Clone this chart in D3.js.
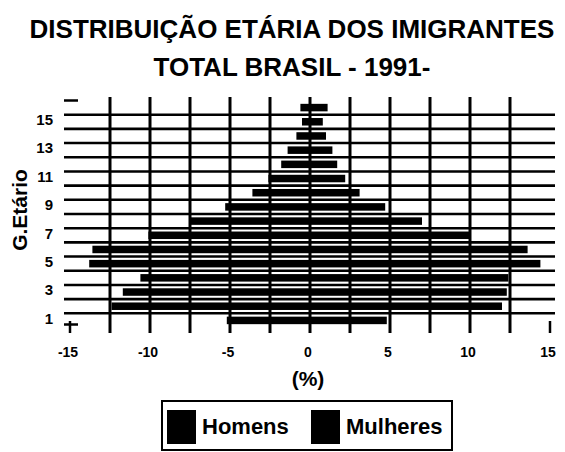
<!DOCTYPE html>
<html>

<head>
    <meta charset="utf-8">
    <title>Distribuição etária dos imigrantes</title>
    <script src="https://d3js.org/d3.v7.min.js"></script>
    <style>
        body {
            margin: 0;
            background: #fff;
        }

        text {
            font-family: "Liberation Sans", Arial, sans-serif;
            fill: #000;
        }
    </style>
</head>

<body>
    <div id="chart"></div>

    <script>
        // grupos etários, de baixo para cima
        const grupos = [1, 2, 3, 4, 5, 6, 7, 8, 9, 10, 11, 12, 13, 14, 15, 16];
        // % por sexo (homens negativos, para a esquerda)
        const homens = [-5.2, -12.4, -11.7, -10.6, -13.8, -13.6, -10.1, -7.5, -5.3, -3.6, -2.6, -1.8, -1.4, -0.85, -0.5, -0.6];
        const mulheres = [4.8, 12.0, 12.3, 12.4, 14.4, 13.6, 10.0, 7.0, 4.7, 3.1, 2.2, 1.7, 1.4, 1.0, 0.8, 1.1];
        const xTicks = [-15, -10, -5, 0, 5, 10, 15];
        const xGrid = [-12.5, -10, -7.5, -5, -2.5, 0, 2.5, 5, 7.5, 10, 12.5];
        const yLabels = [1, 3, 5, 7, 9, 11, 13, 15];
        const titulo = ["DISTRIBUIÇÃO ETÁRIA DOS IMIGRANTES", "TOTAL BRASIL - 1991-"];
        const series = ["Homens", "Mulheres"];

        const W = 565, H = 452;
        const plot = { left: 70, right: 550, top: 100.5, bottom: 327.5 };

        const svg = d3.select("#chart")
            .append("svg")
            .attr("width", W)
            .attr("height", H);

        const x = d3.scaleLinear()
            .domain([-15, 15])
            .range([plot.left, plot.right]);

        const y = d3.scaleBand()
            .domain(grupos.slice().reverse())
            .range([plot.top, plot.bottom])
            .padding(0.47)
            .paddingOuter(0.235);

        const step = y.step(), bw = y.bandwidth();
        const bandTop = g => y(g) + bw / 2 - step / 2;

        // titulo
        svg.selectAll(".titulo")
            .data(titulo)
            .join("text")
            .attr("class", "titulo")
            .attr("x", 292)
            .attr("y", (d, i) => 38 + i * 38)
            .attr("text-anchor", "middle")
            .style("font-size", "26px")
            .style("font-weight", "bold")
            .text(d => d);

        const g = svg.append("g");

        // grade vertical
        g.selectAll(".vgrid")
            .data(xGrid)
            .join("line")
            .attr("x1", d => x(d)).attr("x2", d => x(d))
            .attr("y1", 97).attr("y2", 333)
            .attr("stroke", "#000")
            .attr("stroke-width", 3);

        // marcas em -15 e 15
        g.selectAll(".xtick")
            .data([-15, 15])
            .join("line")
            .attr("x1", d => x(d)).attr("x2", d => x(d))
            .attr("y1", 321).attr("y2", 333)
            .attr("stroke", "#000")
            .attr("stroke-width", 2.5);

        // grade horizontal entre grupos
        g.selectAll(".hgrid")
            .data(grupos.slice(0, -1))
            .join("line")
            .attr("x1", 64).attr("x2", 555)
            .attr("y1", d => bandTop(d)).attr("y2", d => bandTop(d))
            .attr("stroke", "#000")
            .attr("stroke-width", 2.6);

        // marcas no topo e na base do eixo
        g.selectAll(".ytick")
            .data([plot.top, plot.bottom - 3])
            .join("line")
            .attr("x1", 64).attr("x2", 78)
            .attr("y1", d => d).attr("y2", d => d)
            .attr("stroke", "#000")
            .attr("stroke-width", 2.5);

        // barras
        g.selectAll(".homens")
            .data(grupos)
            .join("rect")
            .attr("x", (d, i) => x(homens[i]))
            .attr("y", d => y(d))
            .attr("width", (d, i) => x(0) - x(homens[i]))
            .attr("height", bw)
            .attr("fill", "#000");

        g.selectAll(".mulheres")
            .data(grupos)
            .join("rect")
            .attr("x", x(0))
            .attr("y", d => y(d))
            .attr("width", (d, i) => x(mulheres[i]) - x(0))
            .attr("height", bw)
            .attr("fill", "#000");

        // rotulos eixo x
        svg.selectAll(".xlab")
            .data(xTicks)
            .join("text")
            .attr("x", d => x(d) - 2)
            .attr("y", 357)
            .attr("text-anchor", "middle")
            .style("font-size", "14px")
            .style("font-weight", "bold")
            .text(d => d);

        // rotulos eixo y
        svg.selectAll(".ylab")
            .data(yLabels)
            .join("text")
            .attr("x", 53)
            .attr("y", d => y(d) + bw / 2 - 2)
            .attr("dy", "0.35em")
            .attr("text-anchor", "end")
            .style("font-size", "15px")
            .style("font-weight", "bold")
            .text(d => d);

        // titulos dos eixos
        svg.append("text")
            .attr("x", 308)
            .attr("y", 386)
            .attr("text-anchor", "middle")
            .style("font-size", "21px")
            .style("font-weight", "bold")
            .text("(%)");

        svg.append("text")
            .attr("transform", "translate(27,210) rotate(-90)")
            .attr("text-anchor", "middle")
            .style("font-size", "21px")
            .style("font-weight", "bold")
            .text("G.Etário");

        // legenda
        const leg = svg.append("g");
        leg.append("rect")
            .attr("x", 162).attr("y", 401)
            .attr("width", 290).attr("height", 49)
            .attr("fill", "none")
            .attr("stroke", "#000")
            .attr("stroke-width", 2);

        const legX = [167, 311];
        series.forEach((s, i) => {
            leg.append("rect")
                .attr("x", legX[i]).attr("y", 410)
                .attr("width", 29).attr("height", 34)
                .attr("fill", "#000");
            leg.append("text")
                .attr("x", legX[i] + 35)
                .attr("y", 434)
                .style("font-size", "22px")
                .style("font-weight", "bold")
                .text(s);
        });
    </script>
</body>

</html>
